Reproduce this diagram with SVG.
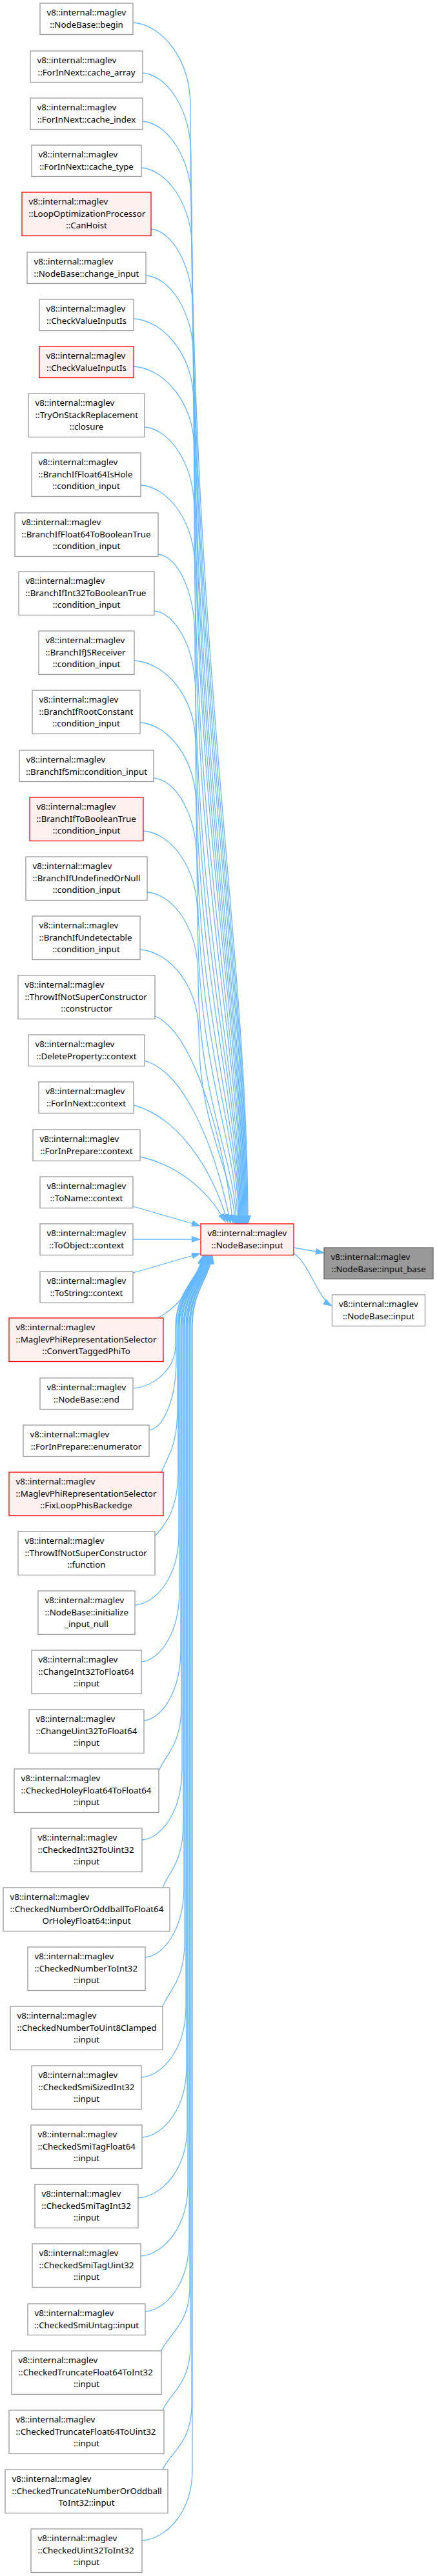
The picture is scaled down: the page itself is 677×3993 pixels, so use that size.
<svg xmlns="http://www.w3.org/2000/svg" width="677" height="3993" viewBox="0 0 677 3993">
<style>
.w rect{fill:#ffffff;stroke:#999999;stroke-width:1.3}
.r rect{fill:#fff0f0;stroke:#ff0000;stroke-width:1.3}
.g rect{fill:#999999;stroke:#666666;stroke-width:1.3}
text{font-family:"Noto Sans","Liberation Sans",sans-serif;font-size:13.3px;fill:#000000}
.c{text-anchor:middle}
#edges path{fill:none;stroke:#63b8ff;stroke-width:1.3;marker-end:url(#a)}
</style>
<defs>
<marker id="a" markerUnits="userSpaceOnUse" markerWidth="14" markerHeight="10" refX="13" refY="5" orient="auto">
<path d="M0,0.5 L13,5 L0,9.5 z" fill="#63b8ff" stroke="#63b8ff" stroke-width="1"/>
</marker>
</defs>
<rect width="677" height="3993" fill="#ffffff"/>
<g id="edges">
<path d="M206,35 C250,38 295,90 295,165 C295,1031 384,1464 384,1897"/>
<path d="M221,113 C258,116 296,168 296,243 C296,1070 383,1484 383,1897"/>
<path d="M221,188 C259,191 297,243 297,318 C297,1108 382,1502 382,1897"/>
<path d="M219,260 C258,263 298,315 298,390 C298,1144 381,1520 381,1897"/>
<path d="M234,355 C266,358 299,410 299,485 C299,1191 380,1544 380,1897"/>
<path d="M226,427 C263,430 300,482 300,557 C300,1227 379,1562 379,1897"/>
<path d="M207,494 C253,497 300,549 300,624 C300,1260 378,1579 378,1897"/>
<path d="M207,568 C254,571 301,623 301,698 C301,1298 377,1597 377,1897"/>
<path d="M224,662 C262,665 301,717 301,792 C301,1344 376,1621 376,1897"/>
<path d="M218,752 C260,755 302,807 302,882 C302,1390 375,1643 375,1897"/>
<path d="M245,859 C274,862 302,914 302,989 C302,1443 374,1670 374,1897"/>
<path d="M239,947 C271,950 303,1002 303,1077 C303,1487 373,1692 373,1897"/>
<path d="M208,1024 C256,1027 303,1079 303,1154 C303,1526 372,1711 372,1897"/>
<path d="M217,1120 C260,1123 304,1175 304,1250 C304,1574 371,1735 371,1897"/>
<path d="M238,1206 C272,1209 305,1261 305,1336 C305,1616 370,1757 370,1897"/>
<path d="M222,1288 C264,1291 306,1343 306,1418 C306,1658 368,1777 368,1897"/>
<path d="M228,1383 C268,1386 307,1438 307,1513 C307,1705 366,1801 366,1897"/>
<path d="M217,1472 C262,1475 308,1527 308,1602 C308,1750 364,1823 364,1897"/>
<path d="M240,1575 C300,1600 345,1760 361,1896"/>
<path d="M224,1644 C280,1660 330,1760 357,1896"/>
<path d="M207,1713 C270,1730 325,1800 353,1895"/>
<path d="M217,1793 C270,1805 320,1840 349,1894"/>
<path d="M206,1870 L310,1900"/>
<path d="M206,1921 L310,1921"/>
<path d="M206,1973 L310,1943"/>
<path d="M244,2043 C270,2030 300,2000 314,1947"/>
<path d="M207,2152 C242,2148 272,2120 272,2085 L272,2056 C272,2001 309,1981 314,1947"/>
<path d="M231,2217 C252,2214 273,2172 273,2107 L273,2056 C273,2001 310,1981 315,1947"/>
<path d="M250,2282 C260,2257 275,2242 275,2182 L275,2056 C275,2001 310,1981 315,1947"/>
<path d="M240,2381 C255,2365 276,2341 276,2281 L276,2056 C276,2001 311,1981 316,1947"/>
<path d="M209,2488 C243,2485 277,2443 277,2378 L277,2056 C277,2001 312,1981 317,1947"/>
<path d="M219,2576 C248,2573 278,2531 278,2466 L278,2056 C278,2001 313,1981 318,1947"/>
<path d="M223,2667 C251,2664 280,2622 280,2557 L280,2056 C280,2001 313,1981 318,1947"/>
<path d="M246,2745 C256,2720 281,2705 281,2645 L281,2056 C281,2001 314,1981 319,1947"/>
<path d="M220,2852 C251,2849 282,2807 282,2742 L282,2056 C282,2001 315,1981 320,1947"/>
<path d="M252,2926 C262,2901 284,2886 284,2826 L284,2056 C284,2001 316,1981 321,1947"/>
<path d="M225,3034 C255,3031 285,2989 285,2924 L285,2056 C285,2001 316,1981 321,1947"/>
<path d="M252,3110 C262,3085 286,3070 286,3010 L286,2056 C286,2001 317,1981 322,1947"/>
<path d="M219,3220 C253,3217 288,3175 288,3110 L288,2056 C288,2001 318,1981 323,1947"/>
<path d="M220,3313 C254,3310 289,3268 289,3203 L289,2056 C289,2001 319,1981 324,1947"/>
<path d="M214,3407 C252,3404 290,3362 290,3297 L290,2056 C290,2001 319,1981 324,1947"/>
<path d="M218,3497 C254,3494 291,3452 291,3387 L291,2056 C291,2001 320,1981 325,1947"/>
<path d="M225,3583 C259,3580 293,3538 293,3473 L293,2056 C293,2001 321,1981 326,1947"/>
<path d="M250,3644 C260,3619 294,3604 294,3544 L294,2056 C294,2001 322,1981 327,1947"/>
<path d="M252,3736 C262,3711 295,3696 295,3636 L295,2056 C295,2001 322,1981 327,1947"/>
<path d="M252,3828 C262,3803 297,3788 297,3728 L297,2056 C297,2001 323,1981 328,1947"/>
<path d="M220,3938 C259,3935 298,3893 298,3828 L298,2056 C298,2001 324,1981 329,1947"/>
<path d="M455,1934 L502,1942"/>
<path d="M455,1943 C478,1956 492,2012 514,2024"/>
</g>
<g id="center" class="r" transform="translate(311,1897)"><rect width="144" height="48.5"/><text x="10.5" y="18.8">v8::internal::maglev</text><text class="c" x="72" y="37.5">::NodeBase::input</text></g>
<g id="input_base" class="g" transform="translate(502,1934)"><rect width="169" height="48.5"/><text x="10.5" y="18.8">v8::internal::maglev</text><text class="c" x="84.5" y="37.5">::NodeBase::input_base</text></g>
<g id="input2" class="w" transform="translate(514.5,2007)"><rect width="144" height="48.5"/><text x="10.5" y="18.8">v8::internal::maglev</text><text class="c" x="72" y="37.5">::NodeBase::input</text></g>
<g id="n1" class="w" transform="translate(62,5)"><rect width="144" height="48.5"/><text x="10.5" y="18.8">v8::internal::maglev</text><text class="c" x="72" y="37.5">::NodeBase::begin</text></g>
<g id="n2" class="w" transform="translate(47,79)"><rect width="174" height="48.5"/><text x="10.5" y="18.8">v8::internal::maglev</text><text class="c" x="87" y="37.5">::ForInNext::cache_array</text></g>
<g id="n3" class="w" transform="translate(47,152)"><rect width="174" height="48.5"/><text x="10.5" y="18.8">v8::internal::maglev</text><text class="c" x="87" y="37.5">::ForInNext::cache_index</text></g>
<g id="n4" class="w" transform="translate(49,225)"><rect width="170" height="48.5"/><text x="10.5" y="18.8">v8::internal::maglev</text><text class="c" x="85" y="37.5">::ForInNext::cache_type</text></g>
<g id="n5" class="r" transform="translate(34,298)"><rect width="200" height="67.5"/><text x="10.5" y="18.8">v8::internal::maglev</text><text x="10.5" y="37.5">::LoopOptimizationProcessor</text><text class="c" x="100" y="56.2">::CanHoist</text></g>
<g id="n6" class="w" transform="translate(42,391)"><rect width="184" height="48.5"/><text x="10.5" y="18.8">v8::internal::maglev</text><text class="c" x="92" y="37.5">::NodeBase::change_input</text></g>
<g id="n7" class="w" transform="translate(61,464)"><rect width="146" height="48.5"/><text x="10.5" y="18.8">v8::internal::maglev</text><text class="c" x="73" y="37.5">::CheckValueInputIs</text></g>
<g id="n8" class="r" transform="translate(61,537)"><rect width="146" height="48.5"/><text x="10.5" y="18.8">v8::internal::maglev</text><text class="c" x="73" y="37.5">::CheckValueInputIs</text></g>
<g id="n9" class="w" transform="translate(44,610)"><rect width="180" height="67.5"/><text x="10.5" y="18.8">v8::internal::maglev</text><text x="10.5" y="37.5">::TryOnStackReplacement</text><text class="c" x="90" y="56.2">::closure</text></g>
<g id="n10" class="w" transform="translate(49,702)"><rect width="169" height="67.5"/><text x="10.5" y="18.8">v8::internal::maglev</text><text x="10.5" y="37.5">::BranchIfFloat64IsHole</text><text class="c" x="84.5" y="56.2">::condition_input</text></g>
<g id="n11" class="w" transform="translate(23,795)"><rect width="222" height="67.5"/><text x="10.5" y="18.8">v8::internal::maglev</text><text x="10.5" y="37.5">::BranchIfFloat64ToBooleanTrue</text><text class="c" x="111" y="56.2">::condition_input</text></g>
<g id="n12" class="w" transform="translate(29,886)"><rect width="210" height="67.5"/><text x="10.5" y="18.8">v8::internal::maglev</text><text x="10.5" y="37.5">::BranchIfInt32ToBooleanTrue</text><text class="c" x="105" y="56.2">::condition_input</text></g>
<g id="n13" class="w" transform="translate(60,978)"><rect width="148" height="67.5"/><text x="10.5" y="18.8">v8::internal::maglev</text><text x="10.5" y="37.5">::BranchIfJSReceiver</text><text class="c" x="74" y="56.2">::condition_input</text></g>
<g id="n14" class="w" transform="translate(50,1070)"><rect width="167" height="67.5"/><text x="10.5" y="18.8">v8::internal::maglev</text><text x="10.5" y="37.5">::BranchIfRootConstant</text><text class="c" x="83.5" y="56.2">::condition_input</text></g>
<g id="n15" class="w" transform="translate(30,1163)"><rect width="208" height="48.5"/><text x="10.5" y="18.8">v8::internal::maglev</text><text class="c" x="104" y="37.5">::BranchIfSmi::condition_input</text></g>
<g id="n16" class="r" transform="translate(46,1236)"><rect width="176" height="67.5"/><text x="10.5" y="18.8">v8::internal::maglev</text><text x="10.5" y="37.5">::BranchIfToBooleanTrue</text><text class="c" x="88" y="56.2">::condition_input</text></g>
<g id="n17" class="w" transform="translate(40,1328)"><rect width="188" height="67.5"/><text x="10.5" y="18.8">v8::internal::maglev</text><text x="10.5" y="37.5">::BranchIfUndefinedOrNull</text><text class="c" x="94" y="56.2">::condition_input</text></g>
<g id="n18" class="w" transform="translate(50,1420)"><rect width="167" height="67.5"/><text x="10.5" y="18.8">v8::internal::maglev</text><text x="10.5" y="37.5">::BranchIfUndetectable</text><text class="c" x="83.5" y="56.2">::condition_input</text></g>
<g id="n19" class="w" transform="translate(28,1512)"><rect width="212" height="67.5"/><text x="10.5" y="18.8">v8::internal::maglev</text><text x="10.5" y="37.5">::ThrowIfNotSuperConstructor</text><text class="c" x="106" y="56.2">::constructor</text></g>
<g id="n20" class="w" transform="translate(44,1604)"><rect width="180" height="48.5"/><text x="10.5" y="18.8">v8::internal::maglev</text><text class="c" x="90" y="37.5">::DeleteProperty::context</text></g>
<g id="n21" class="w" transform="translate(60,1677)"><rect width="147" height="48.5"/><text x="10.5" y="18.8">v8::internal::maglev</text><text class="c" x="73.5" y="37.5">::ForInNext::context</text></g>
<g id="n22" class="w" transform="translate(51,1751)"><rect width="166" height="48.5"/><text x="10.5" y="18.8">v8::internal::maglev</text><text class="c" x="83" y="37.5">::ForInPrepare::context</text></g>
<g id="n23" class="w" transform="translate(62,1824)"><rect width="144" height="48.5"/><text x="10.5" y="18.8">v8::internal::maglev</text><text class="c" x="72" y="37.5">::ToName::context</text></g>
<g id="n24" class="w" transform="translate(62,1897)"><rect width="144" height="48.5"/><text x="10.5" y="18.8">v8::internal::maglev</text><text class="c" x="72" y="37.5">::ToObject::context</text></g>
<g id="n25" class="w" transform="translate(62,1971)"><rect width="144" height="48.5"/><text x="10.5" y="18.8">v8::internal::maglev</text><text class="c" x="72" y="37.5">::ToString::context</text></g>
<g id="n26" class="r" transform="translate(14,2043)"><rect width="239" height="67.5"/><text x="10.5" y="18.8">v8::internal::maglev</text><text x="10.5" y="37.5">::MaglevPhiRepresentationSelector</text><text class="c" x="119.5" y="56.2">::ConvertTaggedPhiTo</text></g>
<g id="n27" class="w" transform="translate(62,2136)"><rect width="144" height="48.5"/><text x="10.5" y="18.8">v8::internal::maglev</text><text class="c" x="72" y="37.5">::NodeBase::end</text></g>
<g id="n28" class="w" transform="translate(36,2209)"><rect width="195" height="48.5"/><text x="10.5" y="18.8">v8::internal::maglev</text><text class="c" x="97.5" y="37.5">::ForInPrepare::enumerator</text></g>
<g id="n29" class="r" transform="translate(14,2282)"><rect width="239" height="67.5"/><text x="10.5" y="18.8">v8::internal::maglev</text><text x="10.5" y="37.5">::MaglevPhiRepresentationSelector</text><text class="c" x="119.5" y="56.2">::FixLoopPhisBackedge</text></g>
<g id="n30" class="w" transform="translate(28,2374)"><rect width="212" height="67.5"/><text x="10.5" y="18.8">v8::internal::maglev</text><text x="10.5" y="37.5">::ThrowIfNotSuperConstructor</text><text class="c" x="106" y="56.2">::function</text></g>
<g id="n31" class="w" transform="translate(59,2466)"><rect width="150" height="67.5"/><text x="10.5" y="18.8">v8::internal::maglev</text><text x="10.5" y="37.5">::NodeBase::initialize</text><text class="c" x="75" y="56.2">_input_null</text></g>
<g id="n32" class="w" transform="translate(49,2558)"><rect width="170" height="67.5"/><text x="10.5" y="18.8">v8::internal::maglev</text><text x="10.5" y="37.5">::ChangeInt32ToFloat64</text><text class="c" x="85" y="56.2">::input</text></g>
<g id="n33" class="w" transform="translate(45,2650)"><rect width="178" height="67.5"/><text x="10.5" y="18.8">v8::internal::maglev</text><text x="10.5" y="37.5">::ChangeUint32ToFloat64</text><text class="c" x="89" y="56.2">::input</text></g>
<g id="n34" class="w" transform="translate(22,2742)"><rect width="224" height="67.5"/><text x="10.5" y="18.8">v8::internal::maglev</text><text x="10.5" y="37.5">::CheckedHoleyFloat64ToFloat64</text><text class="c" x="112" y="56.2">::input</text></g>
<g id="n35" class="w" transform="translate(48,2834)"><rect width="172" height="67.5"/><text x="10.5" y="18.8">v8::internal::maglev</text><text x="10.5" y="37.5">::CheckedInt32ToUint32</text><text class="c" x="86" y="56.2">::input</text></g>
<g id="n36" class="w" transform="translate(5,2926)"><rect width="258" height="67.5"/><text x="10.5" y="18.8">v8::internal::maglev</text><text x="10.5" y="37.5">::CheckedNumberOrOddballToFloat64</text><text class="c" x="129" y="56.2">OrHoleyFloat64::input</text></g>
<g id="n37" class="w" transform="translate(43,3018)"><rect width="182" height="67.5"/><text x="10.5" y="18.8">v8::internal::maglev</text><text x="10.5" y="37.5">::CheckedNumberToInt32</text><text class="c" x="91" y="56.2">::input</text></g>
<g id="n38" class="w" transform="translate(16,3110)"><rect width="236" height="67.5"/><text x="10.5" y="18.8">v8::internal::maglev</text><text x="10.5" y="37.5">::CheckedNumberToUint8Clamped</text><text class="c" x="118" y="56.2">::input</text></g>
<g id="n39" class="w" transform="translate(49,3202)"><rect width="170" height="67.5"/><text x="10.5" y="18.8">v8::internal::maglev</text><text x="10.5" y="37.5">::CheckedSmiSizedInt32</text><text class="c" x="85" y="56.2">::input</text></g>
<g id="n40" class="w" transform="translate(48,3294)"><rect width="172" height="67.5"/><text x="10.5" y="18.8">v8::internal::maglev</text><text x="10.5" y="37.5">::CheckedSmiTagFloat64</text><text class="c" x="86" y="56.2">::input</text></g>
<g id="n41" class="w" transform="translate(54,3386)"><rect width="160" height="67.5"/><text x="10.5" y="18.8">v8::internal::maglev</text><text x="10.5" y="37.5">::CheckedSmiTagInt32</text><text class="c" x="80" y="56.2">::input</text></g>
<g id="n42" class="w" transform="translate(50,3478)"><rect width="168" height="67.5"/><text x="10.5" y="18.8">v8::internal::maglev</text><text x="10.5" y="37.5">::CheckedSmiTagUint32</text><text class="c" x="84" y="56.2">::input</text></g>
<g id="n43" class="w" transform="translate(43,3571)"><rect width="182" height="48.5"/><text x="10.5" y="18.8">v8::internal::maglev</text><text class="c" x="91" y="37.5">::CheckedSmiUntag::input</text></g>
<g id="n44" class="w" transform="translate(18,3644)"><rect width="232" height="67.5"/><text x="10.5" y="18.8">v8::internal::maglev</text><text x="10.5" y="37.5">::CheckedTruncateFloat64ToInt32</text><text class="c" x="116" y="56.2">::input</text></g>
<g id="n45" class="w" transform="translate(14,3736)"><rect width="240" height="67.5"/><text x="10.5" y="18.8">v8::internal::maglev</text><text x="10.5" y="37.5">::CheckedTruncateFloat64ToUint32</text><text class="c" x="120" y="56.2">::input</text></g>
<g id="n46" class="w" transform="translate(8,3828)"><rect width="252" height="67.5"/><text x="10.5" y="18.8">v8::internal::maglev</text><text x="10.5" y="37.5">::CheckedTruncateNumberOrOddball</text><text class="c" x="126" y="56.2">ToInt32::input</text></g>
<g id="n47" class="w" transform="translate(48,3920)"><rect width="172" height="67.5"/><text x="10.5" y="18.8">v8::internal::maglev</text><text x="10.5" y="37.5">::CheckedUint32ToInt32</text><text class="c" x="86" y="56.2">::input</text></g>
</svg>
